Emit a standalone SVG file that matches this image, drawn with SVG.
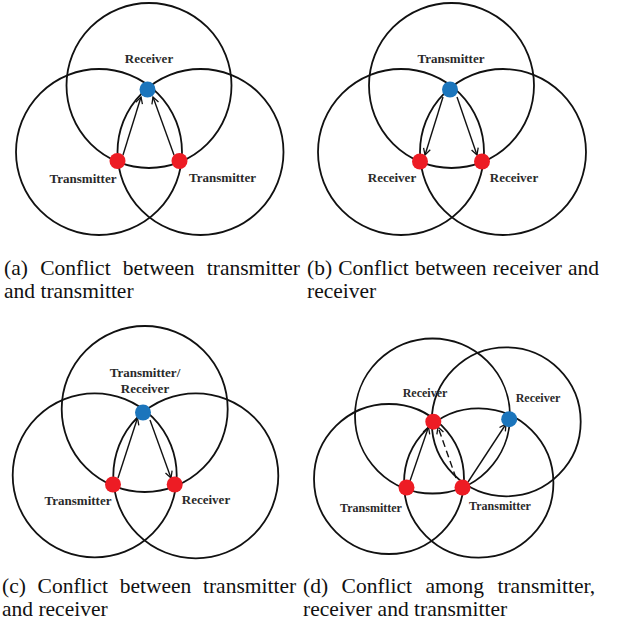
<svg xmlns="http://www.w3.org/2000/svg" width="621" height="629" viewBox="0 0 621 629">
<style>
.rng{fill:none;stroke:#111;stroke-width:1.8}
.tx{fill:#ED1C24}
.rx{fill:#1B75BC}
.lbl{font-family:"Liberation Serif","Times New Roman",serif;font-weight:bold;font-size:13px;fill:#2a2a2a;text-anchor:middle}
.lbl12{font-size:12px}
.cap{font-family:"Liberation Serif","Times New Roman",serif;font-size:21.5px;fill:#111}
.arr{fill:none;stroke:#111;stroke-width:1.4;marker-end:url(#ah)}
.dash{stroke-dasharray:7,4}
</style>
<defs>
<marker id="ah" markerWidth="9" markerHeight="9" refX="7.5" refY="4.5" orient="auto" markerUnits="userSpaceOnUse">
<path d="M1,1 L7.5,4.5 L1,8" fill="none" stroke="#111" stroke-width="1.3"/>
</marker>
</defs>

<!-- Panel (a) -->
<g id="panel-a-ranges">
<circle class="rng" cx="149" cy="85.5" r="82.5"/>
<circle class="rng" cx="99" cy="152" r="83"/>
<circle class="rng" cx="200.5" cy="152" r="83"/>
</g>
<g id="a-connectors">
<line class="arr" x1="123" y1="155" x2="141" y2="97"/>
<line class="arr" x1="174" y1="155" x2="153" y2="97"/>
</g>
<g id="a-receiver"><circle class="rx" cx="147.5" cy="89.5" r="8"/><text class="lbl" x="149" y="63">Receiver</text></g>
<g id="a-transmitter-1"><circle class="tx" cx="117.5" cy="161" r="8"/><text class="lbl" x="83" y="183">Transmitter</text></g>
<g id="a-transmitter-2"><circle class="tx" cx="179.5" cy="161" r="8"/><text class="lbl" x="222.5" y="182">Transmitter</text></g>

<!-- Panel (b) -->
<g id="panel-b-ranges">
<circle class="rng" cx="451.5" cy="85.5" r="82.5"/>
<circle class="rng" cx="401" cy="152" r="83"/>
<circle class="rng" cx="503" cy="152" r="83"/>
</g>
<g id="b-connectors">
<line class="arr" x1="443" y1="97" x2="425" y2="155"/>
<line class="arr" x1="457" y1="97" x2="477" y2="155"/>
</g>
<g id="b-transmitter"><circle class="rx" cx="450" cy="89.5" r="8"/><text class="lbl" x="451" y="63">Transmitter</text></g>
<g id="b-receiver-1"><circle class="tx" cx="420" cy="161.5" r="8"/><text class="lbl" x="392" y="182">Receiver</text></g>
<g id="b-receiver-2"><circle class="tx" cx="482" cy="161.5" r="8"/><text class="lbl" x="514" y="182">Receiver</text></g>

<!-- Panel (c) -->
<g id="panel-c-ranges">
<circle class="rng" cx="144.7" cy="409" r="83"/>
<circle class="rng" cx="94.7" cy="475.3" r="82"/>
<circle class="rng" cx="195.8" cy="475.8" r="82.5"/>
</g>
<g id="c-connectors">
<line class="arr" x1="118" y1="478" x2="137.5" y2="418"/>
<line class="arr" x1="150" y1="420" x2="171" y2="478"/>
</g>
<g id="c-transceiver"><circle class="rx" cx="143" cy="412.5" r="8"/><text class="lbl" x="145" y="377">Transmitter/</text><text class="lbl" x="145" y="393">Receiver</text></g>
<g id="c-transmitter"><circle class="tx" cx="113" cy="484.5" r="8"/><text class="lbl" x="78" y="505">Transmitter</text></g>
<g id="c-receiver"><circle class="tx" cx="174.7" cy="484.5" r="8"/><text class="lbl" x="206" y="504">Receiver</text></g>

<!-- Panel (d) -->
<g id="panel-d-ranges">
<circle class="rng" cx="432.5" cy="416" r="77.5"/>
<circle class="rng" cx="506.2" cy="421.8" r="74.5"/>
<circle class="rng" cx="389" cy="479" r="75"/>
<circle class="rng" cx="478.7" cy="483" r="74.7"/>
</g>
<g id="d-connectors">
<line class="arr" x1="410" y1="481" x2="428.5" y2="427"/>
<line class="arr dash" x1="456" y1="478" x2="438" y2="427"/>
<line class="arr" x1="468" y1="482" x2="506" y2="424"/>
</g>
<g id="d-receiver-1"><circle class="tx" cx="433.3" cy="421.7" r="8"/><text class="lbl lbl12" x="425" y="397">Receiver</text></g>
<g id="d-receiver-2"><circle class="rx" cx="509.2" cy="419.2" r="8"/><text class="lbl lbl12" x="538" y="402">Receiver</text></g>
<g id="d-transmitter-1"><circle class="tx" cx="406.5" cy="487.5" r="8"/><text class="lbl lbl12" x="371" y="512">Transmitter</text></g>
<g id="d-transmitter-2"><circle class="tx" cx="462.5" cy="487.5" r="8"/><text class="lbl lbl12" x="500" y="510">Transmitter</text></g>

<!-- Captions -->
<g id="captions">
<text class="cap" x="4" y="275" word-spacing="6.9">(a) Conflict between transmitter</text>
<text class="cap" x="4" y="297.5">and transmitter</text>
<text class="cap" x="307" y="275" word-spacing="0.8">(b) Conflict between receiver and</text>
<text class="cap" x="307" y="297.5">receiver</text>
<text class="cap" x="2" y="593" word-spacing="6.3">(c) Conflict between transmitter</text>
<text class="cap" x="2" y="616">and receiver</text>
<text class="cap" x="303" y="593" word-spacing="8.1">(d) Conflict among transmitter,</text>
<text class="cap" x="303" y="616">receiver and transmitter</text>
</g>
</svg>
